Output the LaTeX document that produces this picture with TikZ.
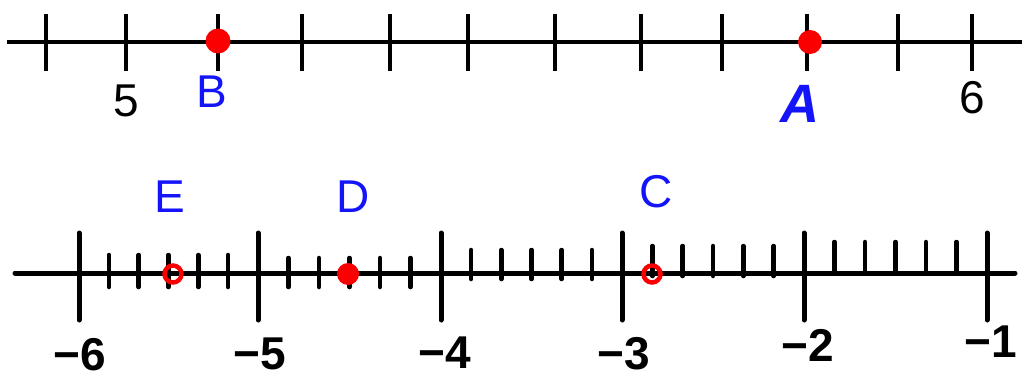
\documentclass[tikz,border=0pt]{standalone}
\usepackage{fontspec}
\setmainfont{Liberation Sans}
\usepackage{tikz}
\usepackage{xcolor}
\definecolor{ptblue}{RGB}{20,20,250}
\definecolor{ptred}{RGB}{250,0,0}

\begin{document}
\begin{tikzpicture}[x=1pt, y=-1pt,
  axis/.style={line width=4.5pt},
  major/.style={line width=5pt, line cap=round},
  minor/.style={line width=4.5pt, line cap=round},
  fulldot/.style={circle, fill=ptred, inner sep=0pt, minimum size=#1},
  opendot/.style={circle, draw=ptred, line width=4.5pt, inner sep=0pt, minimum size=17pt},
  ptname/.style={text=ptblue, font=\fontsize{46}{50}\selectfont},
  numtext/.style={font=\fontsize{46}{50}\selectfont},
  handnum/.style={font=\fontsize{46}{50}\selectfont\bfseries, inner sep=1pt}]
  \useasboundingbox (0,0) rectangle (1022,380);
  % Top line: 5 to 6 in tenths
  \draw[axis] (7,42) -- (1022,42);
  \foreach \x in {46,126,218,302,390,468,555,641,722,807,898,972}
    \draw[axis] (\x,14) -- (\x,71);
  \node[numtext] (five) at (126,101) {5};
  \node[numtext] (six) at (972,98) {6};
  \node[fulldot=25pt] (dotB) at (218,41) {};
  \node[fulldot=24pt] (dotA) at (810,42) {};
  \node[ptname] (nameB) at (212,92) {B};
  \node[ptname, font=\fontsize{54}{58}\selectfont\bfseries\itshape] (nameA) at (800,104) {A};
  % Bottom line: -6 to -1 in sixths
  \draw[major] (15,273) -- (1015,273);
  \foreach \x in {79,258,441,622,804,987}
    \draw[major] (\x,233) -- (\x,320);
  \foreach \a/\b/\t/\u in {79/258/255/287, 258/441/258/287, 441/622/250/279,
                           622/804/246/276, 804/987/242/271}
    \foreach \k in {1,...,5}
      \draw[minor] ({\a+(\b-\a)*\k/6},\t) -- ({\a+(\b-\a)*\k/6},\u);
  \node[opendot] (dotE) at (173,274) {};
  \node[fulldot=22pt] (dotD) at (348,274) {};
  \node[opendot] (dotC) at (652,274) {};
  \node[ptname] (nameE) at (170,197) {E};
  \node[ptname] (nameD) at (353,197) {D};
  \node[ptname] (nameC) at (656,192) {C};
  \node[handnum] (mSix) at (80,355) {−6};
  \node[handnum] (mFive) at (260,354) {−5};
  \node[handnum] (mFour) at (445,353) {−4};
  \node[handnum] (mThree) at (624,354) {−3};
  \node[handnum] (mTwo) at (808,345) {−2};
  \node[handnum] (mOne) at (991,342) {−1};
\end{tikzpicture}
\end{document}
